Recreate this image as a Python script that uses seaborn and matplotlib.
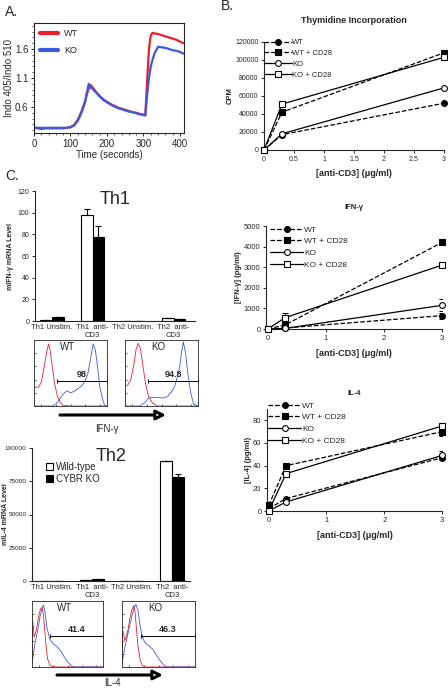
import matplotlib.pyplot as plt
import seaborn as sns
import pandas as pd
from matplotlib.ticker import FormatStrFormatter, MultipleLocator

# ---------------- data ----------------
# A. calcium flux (Indo 405/510 ratio)
a_time = [0, 10, 20, 30, 40, 50, 60, 70, 80, 90, 100, 110, 120, 130, 140,
          145, 150, 155, 160, 165, 170,
          180, 190, 200, 210, 220, 230, 240, 250, 260, 270, 280, 290, 300,
          305, 310, 315, 320, 325, 330,
          340, 350, 360, 370, 380, 390, 400, 410]
a_wt = [0.24, 0.23, 0.22, 0.23, 0.23, 0.23, 0.23, 0.23, 0.23, 0.24, 0.25, 0.29, 0.38, 0.52, 0.70,
        0.82, 0.92, 0.98, 0.94, 0.90, 0.86,
        0.79, 0.73, 0.69, 0.65, 0.62, 0.59, 0.57, 0.55, 0.53, 0.51, 0.50, 0.48, 0.47,
        0.46, 1.05, 1.60, 1.84, 1.88, 1.87,
        1.86, 1.84, 1.82, 1.80, 1.78, 1.76, 1.73, 1.70]
a_ko = [0.25, 0.24, 0.24, 0.24, 0.24, 0.24, 0.24, 0.24, 0.24, 0.24, 0.25, 0.28, 0.36, 0.50, 0.68,
        0.85, 1.00, 0.93, 0.92, 0.88, 0.85,
        0.78, 0.72, 0.68, 0.64, 0.61, 0.58, 0.56, 0.54, 0.52, 0.51, 0.49, 0.47, 0.46,
        0.45, 0.80, 1.10, 1.30, 1.42, 1.52,
        1.64, 1.63, 1.62, 1.60, 1.58, 1.57, 1.55, 1.52]

# B. anti-CD3 dose response
dose = [0, 0.3, 3]
series_labels = ["WT", "WT + CD28", "KO", "KO + CD28"]
thy_wt = [0, 17000, 52000]
thy_wt_cd28 = [0, 42000, 108000]
thy_ko = [0, 18000, 69000]
thy_ko_cd28 = [0, 51000, 103000]

ifn_wt = [0, 50, 650]
ifn_wt_cd28 = [0, 200, 4200]
ifn_ko = [0, 30, 1150]
ifn_ko_cd28 = [0, 550, 3100]
ifn_err_wt = [0, 0, 150]
ifn_err_wt_cd28 = [0, 0, 0]
ifn_err_ko = [0, 0, 300]
ifn_err_ko_cd28 = [0, 250, 0]

il4_wt = [2, 11, 47]
il4_wt_cd28 = [5, 40, 70]
il4_ko = [0, 8, 49]
il4_ko_cd28 = [0, 33, 75]
il4_err_wt = [0, 0, 0]
il4_err_wt_cd28 = [0, 0, 4]
il4_err_ko = [0, 0, 4]
il4_err_ko_cd28 = [0, 0, 0]

# C. mRNA levels
conditions = ["Th1 Unstim.", "Th1  anti-\nCD3", "Th2 Unstim.", "Th2  anti-\nCD3"]
genotypes = ["Wild-type", "CYBR KO"]
th1_wt = [1, 98, 0, 3]
th1_ko = [3.5, 78, 0, 2]
th1_err_wt = [0, 5, 0, 0]
th1_err_ko = [0, 10, 0, 0]
th2_wt = [0, 800, 0, 90000]
th2_ko = [0, 1500, 0, 78500]
th2_err_wt = [0, 0, 0, 600]
th2_err_ko = [0, 0, 0, 2200]

# flow histograms (fraction of box height vs fraction of axis)
th1_wt_red_x = [0, 0.03, 0.06, 0.1, 0.14, 0.17, 0.2, 0.22, 0.25, 0.28, 0.32, 0.36, 0.4, 0.5, 1.0]
th1_wt_red_y = [0.27, 0.29, 0.28, 0.36, 0.6, 0.8, 0.94, 0.85, 0.6, 0.35, 0.15, 0.05, 0.01, 0.0, 0.0]
th1_wt_blue_x = [0, 0.25, 0.3, 0.35, 0.4, 0.45, 0.5, 0.55, 0.6, 0.65, 0.7, 0.74, 0.78, 0.81,
                 0.84, 0.87, 0.9, 0.94, 0.97, 1.0]
th1_wt_blue_y = [0, 0, 0.03, 0.1, 0.18, 0.23, 0.2, 0.22, 0.26, 0.3, 0.38, 0.5, 0.75, 0.94,
                 0.85, 0.6, 0.3, 0.1, 0.0, 0.0]
th1_ko_red_x = [0, 0.04, 0.08, 0.12, 0.15, 0.18, 0.21, 0.24, 0.28, 0.32, 0.38, 0.45, 1.0]
th1_ko_red_y = [0.3, 0.32, 0.4, 0.62, 0.85, 0.95, 0.88, 0.65, 0.35, 0.15, 0.04, 0.0, 0.0]
th1_ko_blue_x = [0, 0.2, 0.27, 0.32, 0.38, 0.45, 0.52, 0.58, 0.64, 0.68, 0.72, 0.75, 0.78,
                 0.8, 0.83, 0.86, 0.9, 0.94, 1.0]
th1_ko_blue_y = [0, 0, 0.05, 0.12, 0.13, 0.13, 0.12, 0.14, 0.22, 0.3, 0.45, 0.6, 0.85,
                 0.97, 0.8, 0.5, 0.2, 0.03, 0.0]
th2_wt_red_x = [0, 0.01, 0.03, 0.06, 0.09, 0.12, 0.14, 0.16, 0.18, 0.2, 0.22, 0.25, 0.3, 1.0]
th2_wt_red_y = [0.05, 0.7, 0.45, 0.55, 0.75, 0.88, 0.9, 0.8, 0.55, 0.3, 0.12, 0.03, 0.0, 0.0]
th2_wt_blue_x = [0, 0.04, 0.08, 0.11, 0.14, 0.16, 0.18, 0.21, 0.25, 0.3, 0.35, 0.4, 0.45,
                 0.5, 0.55, 0.6, 1.0]
th2_wt_blue_y = [0.05, 0.35, 0.55, 0.75, 0.88, 0.94, 0.85, 0.6, 0.42, 0.35, 0.31, 0.25, 0.16,
                 0.08, 0.02, 0.0, 0.0]
th2_ko_red_x = [0, 0.01, 0.04, 0.08, 0.11, 0.14, 0.16, 0.18, 0.2, 0.22, 0.25, 0.28, 0.32, 1.0]
th2_ko_red_y = [0.05, 0.55, 0.4, 0.55, 0.75, 0.88, 0.93, 0.82, 0.55, 0.3, 0.1, 0.02, 0.0, 0.0]
th2_ko_blue_x = [0, 0.04, 0.08, 0.12, 0.16, 0.19, 0.22, 0.25, 0.29, 0.33, 0.37, 0.42, 0.47,
                 0.52, 0.57, 0.62, 1.0]
th2_ko_blue_y = [0.05, 0.3, 0.5, 0.7, 0.88, 0.95, 0.85, 0.6, 0.42, 0.35, 0.32, 0.27, 0.18,
                 0.1, 0.03, 0.0, 0.0]
gate_labels = ["98", "94.8", "41.4", "46.3"]

# ---------------- style ----------------
sns.set_theme(style="ticks")
plt.rcParams["font.family"] = ["Liberation Sans", "DejaVu Sans"]
plt.rcParams["axes.linewidth"] = 0.8
plt.rcParams["xtick.major.width"] = 0.7
plt.rcParams["ytick.major.width"] = 0.7
plt.rcParams["xtick.major.size"] = 2.5
plt.rcParams["ytick.major.size"] = 2.5

W, H = 448, 688
RED = "#e8202a"
BLUE = "#3a5be0"

fig = plt.figure(figsize=(W / 100, H / 100), dpi=100)


def box(l, t, r, b):
    return [l / W, 1 - b / H, (r - l) / W, (b - t) / H]


def fpt(x, y):
    return (x / W, 1 - y / H)


# ---------------- A ----------------
ax = fig.add_axes(box(34, 23, 184, 133))
sns.lineplot(x=a_time, y=a_wt, ax=ax, color=RED, lw=1.6, label="WT")
sns.lineplot(x=a_time, y=a_ko, ax=ax, color=BLUE, lw=1.6, label="KO")
ax.set_xlim(0, 411)
ax.set_ylim(0.15, 2.05)
ax.set_xticks([0, 100, 200, 300, 400])
ax.set_yticks([0.6, 1.1, 1.6])
ax.xaxis.set_minor_locator(MultipleLocator(20))
ax.yaxis.set_minor_locator(MultipleLocator(0.1))
ax.tick_params(which="minor", length=1.5, width=0.5)
ax.tick_params(labelsize=7, pad=1.5)
ax.set_xlabel("Time (seconds)", fontsize=7, labelpad=1)
ax.set_ylabel("Indo 405/Indo 510", fontsize=7, labelpad=1)
leg = ax.legend(loc="upper left", frameon=False, fontsize=6.5, handlelength=2.0,
                handletextpad=0.6, labelspacing=0.9, borderaxespad=0.3)
for h in leg.get_lines():
    h.set_linewidth(3)


# ---------------- B panels ----------------
styles = [("o", "black", "--"), ("s", "black", "--"), ("o", "white", "-"), ("s", "white", "-")]


def dose_panel(rect, vals, errs, ylabel, ylim, yticks, xticks, leg_xy, fs, hl):
    ax = fig.add_axes(box(*rect))
    for lab, v, (m, mfc, ls) in zip(series_labels, vals, styles):
        sns.lineplot(x=dose, y=v, ax=ax, color="black", lw=0.9, linestyle=ls, marker=m,
                     markerfacecolor=mfc, markeredgecolor="black", markeredgewidth=0.8,
                     markersize=4.2, label=lab, clip_on=False, zorder=3)
    if errs is not None:
        for v, e in zip(vals, errs):
            ax.errorbar(dose, v, yerr=e, fmt="none", ecolor="black", elinewidth=0.7,
                        capsize=2, capthick=0.7, zorder=2)
    ax.set_xlim(xticks[0] - 0.03, 3)
    ax.set_ylim(*ylim)
    ax.set_xticks(xticks)
    ax.set_yticks(yticks)
    ax.xaxis.set_major_formatter(FormatStrFormatter("%g"))
    ax.tick_params(labelsize=fs, pad=1.5)
    sns.despine(ax=ax)
    ax.set_xlabel("[anti-CD3] (\u03bcg/ml)", fontsize=6.5, fontweight="bold", labelpad=5)
    ax.set_ylabel(ylabel, fontsize=5.5, fontweight="bold", labelpad=1)
    ax.legend(loc="upper left", bbox_to_anchor=fpt(*leg_xy), bbox_transform=fig.transFigure,
              frameon=False, fontsize=fs + 0.5, handlelength=hl, handletextpad=0.1,
              labelspacing=0.45, borderaxespad=0, borderpad=0)
    return ax


ax = dose_panel((264, 42, 444, 150), [thy_wt, thy_wt_cd28, thy_ko, thy_ko_cd28], None,
                "CPM", (0, 120000),
                [0, 20000, 40000, 60000, 80000, 100000, 120000],
                [0, 0.5, 1, 1.5, 2, 2.5, 3], (264, 39), 5, 3.6)
ax.set_xlim(0, 3)
ax.set_title("Thymidine Incorporation", fontsize=6.5, fontweight="bold", pad=14)

ax = dose_panel((266, 226, 442, 329), [ifn_wt, ifn_wt_cd28, ifn_ko, ifn_ko_cd28],
                [ifn_err_wt, ifn_err_wt_cd28, ifn_err_ko, ifn_err_ko_cd28],
                "[IFN-\u03b3] (pg/ml)", (0, 5000),
                [0, 1000, 2000, 3000, 4000, 5000], [0, 1, 2, 3], (270, 226), 5.5, 4.0)
ax.set_title("IFN-\u03b3", fontsize=5.5, fontweight="bold", pad=12)

ax = dose_panel((267, 409, 442, 511), [il4_wt, il4_wt_cd28, il4_ko, il4_ko_cd28],
                [il4_err_wt, il4_err_wt_cd28, il4_err_ko, il4_err_ko_cd28],
                "[IL-4] (pg/ml)", (0, 90),
                [0, 20, 40, 60, 80], [0, 1, 2, 3], (268, 402), 5.5, 4.0)
ax.set_title("IL-4", fontsize=5.5, fontweight="bold", pad=10)


# ---------------- C bar charts ----------------
def bar_panel(rect, wt, ko, ewt, eko, title, ylabel, ylim, yticks, xlim, yfs, label_x):
    ax = fig.add_axes(box(*rect))
    df = pd.DataFrame({
        "cond": conditions * 2,
        "geno": [genotypes[0]] * 4 + [genotypes[1]] * 4,
        "val": wt + ko,
    })
    w = 0.58
    sns.barplot(data=df, x="cond", y="val", hue="geno", order=conditions, hue_order=genotypes,
                palette=["white", "black"], edgecolor="black", linewidth=0.8, width=w,
                errorbar=None, ax=ax)
    xs = range(len(conditions))
    ax.errorbar([x - w / 4 for x in xs], wt, yerr=[[0] * 4, ewt], fmt="none", ecolor="black",
                elinewidth=0.8, capsize=2.5, capthick=0.8)
    ax.errorbar([x + w / 4 for x in xs], ko, yerr=[[0] * 4, eko], fmt="none", ecolor="black",
                elinewidth=0.8, capsize=2.5, capthick=0.8)
    ax.set_xlim(*xlim)
    ax.set_ylim(*ylim)
    ax.set_yticks(yticks)
    ax.tick_params(axis="y", labelsize=yfs, pad=1.5)
    ax.tick_params(axis="x", labelsize=5.5, pad=2, length=0)
    ax.set_xlabel("")
    ax.set_ylabel(ylabel, fontsize=5, fontweight="bold")
    # place the y label at a fixed pixel column
    ax.yaxis.set_label_coords(-(rect[0] - label_x) / (rect[2] - rect[0]), 0.5)
    sns.despine(ax=ax)
    ax.text(0.5, 1.0, title, transform=ax.transAxes, ha="center", va="top", fontsize=13)
    return ax


ax = bar_panel((35, 191, 195, 321), th1_wt, th1_ko, th1_err_wt, th1_err_ko, "Th1",
               "mIFN-\u03b3 mRNA Level", (0, 120), [0, 20, 40, 60, 80, 100, 120],
               (-0.42, 3.53), 5, 14)
ax.get_legend().remove()

ax = bar_panel((32, 448, 190, 581), th2_wt, th2_ko, th2_err_wt, th2_err_ko, "Th2",
               "mIL-4 mRNA Level", (0, 100000), [0, 25000, 50000, 75000, 100000],
               (-0.5, 3.45), 4.6, 9)
ax.legend(loc="upper left", bbox_to_anchor=fpt(46, 462), bbox_transform=fig.transFigure,
          frameon=False, fontsize=7, handlelength=0.75, handleheight=0.75, handletextpad=0.3,
          labelspacing=0.2, borderaxespad=0, borderpad=0)


# ---------------- flow histograms ----------------
def flow(rect, rx, ry, bx, by, tag, gate_x0, gate_y, gate_lab):
    ax = fig.add_axes(box(*rect))
    sns.lineplot(x=rx, y=ry, ax=ax, color=RED, lw=0.6)
    sns.lineplot(x=bx, y=by, ax=ax, color=BLUE, lw=0.6)
    ax.plot([gate_x0, 1], [gate_y, gate_y], color="black", lw=0.7, marker="|",
            markersize=3, markeredgewidth=0.7)
    ax.text(0.5 * (gate_x0 + 1), gate_y + 0.03, gate_lab, ha="center", va="bottom",
            fontsize=6.5, fontweight="bold")
    ax.text(0.46, 0.97, tag, transform=ax.transAxes, ha="center", va="top", fontsize=7)
    ax.set_xlim(0, 1)
    ax.set_ylim(0, 1)
    ax.set_xticks([0.1, 0.3, 0.5, 0.7, 0.9])
    ax.set_yticks([0.2, 0.4, 0.6, 0.8])
    ax.tick_params(direction="in", length=1.5, width=0.5, labelleft=False, labelbottom=False)
    for s in ax.spines.values():
        s.set_linewidth(0.6)
    return ax


flow((34, 340, 107, 406), th1_wt_red_x, th1_wt_red_y, th1_wt_blue_x, th1_wt_blue_y,
     "WT", 0.32, 0.38, gate_labels[0])
flow((125, 340, 198, 406), th1_ko_red_x, th1_ko_red_y, th1_ko_blue_x, th1_ko_blue_y,
     "KO", 0.32, 0.38, gate_labels[1])
flow((32, 601, 103, 667), th2_wt_red_x, th2_wt_red_y, th2_wt_blue_x, th2_wt_blue_y,
     "WT", 0.25, 0.47, gate_labels[2])
flow((122, 601, 195, 667), th2_ko_red_x, th2_ko_red_y, th2_ko_blue_x, th2_ko_blue_y,
     "KO", 0.26, 0.47, gate_labels[3])

# ---------------- overlay: panel letters, arrows ----------------
ov = fig.add_axes([0, 0, 1, 1])
ov.set_xlim(0, W)
ov.set_ylim(H, 0)
ov.axis("off")
ov.text(5, 12, "A.", fontsize=10, va="center")
ov.text(221, 6, "B.", fontsize=10, va="center")
ov.text(5, 176, "C.", fontsize=10, va="center")
arrow = dict(arrowstyle="-|>", lw=2.2, color="black", fc="white", mutation_scale=14,
             shrinkA=0, shrinkB=0)
ov.annotate("", xy=(166, 415), xytext=(60, 415), arrowprops=arrow)
ov.text(107, 429, "IFN-\u03b3", fontsize=7, ha="center", va="center")
ov.annotate("", xy=(163, 675), xytext=(57, 675), arrowprops=arrow)
ov.text(112, 683, "IL-4", fontsize=7, ha="center", va="center")

fig.savefig("out.png", dpi=100)
